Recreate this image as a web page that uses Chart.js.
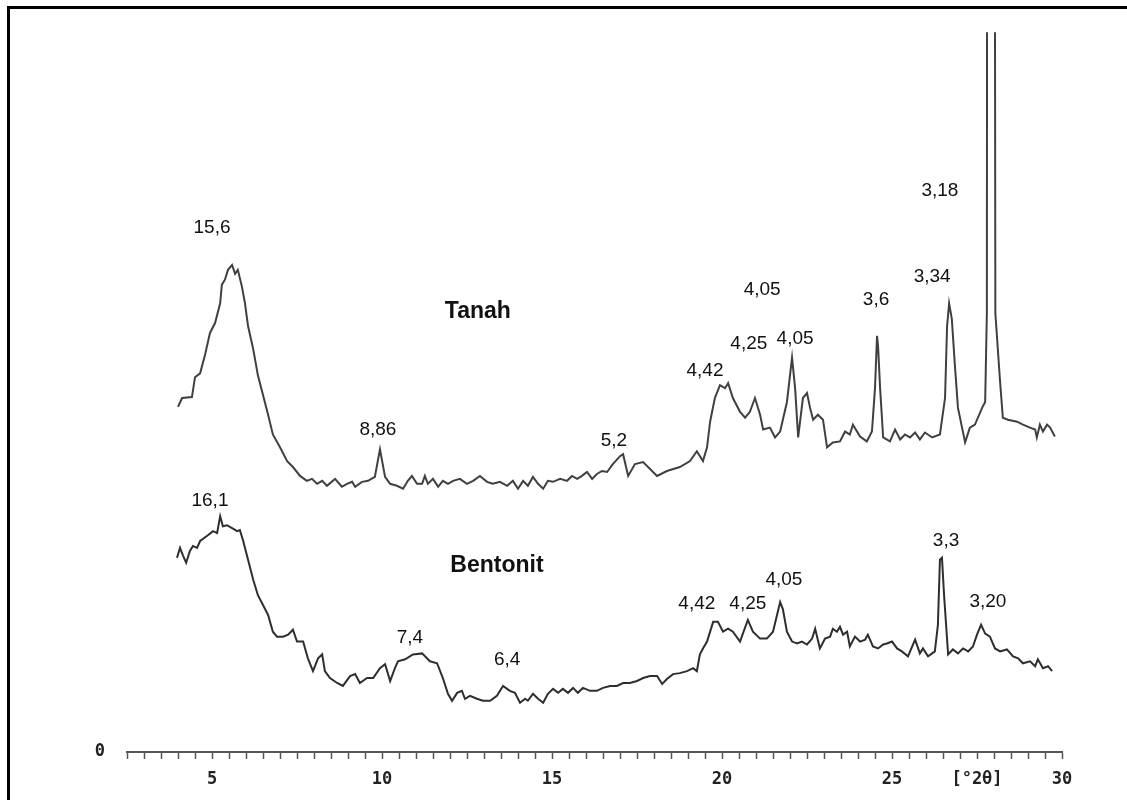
<!DOCTYPE html>
<html>
<head>
<meta charset="utf-8">
<title>XRD Tanah / Bentonit</title>
<script src="https://cdn.jsdelivr.net/npm/chart.js@4"></script>
<style>
  body { margin: 0; background: #fff; }
  #frame { position: relative; width: 1127px; height: 800px; }
  #frame::after {
    content: ''; position: absolute; left: 7px; top: 6px; right: 0; bottom: 0;
    border-left: 3px solid #000; border-top: 3px solid #000; pointer-events: none;
  }
</style>
</head>
<body>
<div id="frame"><canvas id="myChartXrd" width="1127" height="800"></canvas></div>
<script>
// difraktogram: posisi 2theta dan intensitas
const tanahTheta = [
    4.00, 4.12, 4.41, 4.50, 4.65, 4.79, 4.94, 5.09, 5.24, 5.29,
    5.38, 5.47, 5.59, 5.68, 5.76, 5.88, 5.97, 6.06, 6.21, 6.35,
    6.50, 6.65, 6.79, 7.00, 7.21, 7.38, 7.59, 7.79, 7.94, 8.09,
    8.24, 8.38, 8.62, 8.82, 8.97, 9.12, 9.21, 9.41, 9.59, 9.79,
    9.94, 10.09, 10.24, 10.44, 10.62, 10.76, 10.88, 11.03, 11.18, 11.26,
    11.35, 11.50, 11.65, 11.79, 11.94, 12.09, 12.29, 12.50, 12.68, 12.88,
    13.09, 13.26, 13.47, 13.68, 13.85, 14.00, 14.15, 14.29, 14.44, 14.59,
    14.74, 14.88, 15.03, 15.24, 15.44, 15.59, 15.74, 15.88, 16.03, 16.18,
    16.32, 16.47, 16.62, 16.79, 17.00, 17.09, 17.24, 17.44, 17.68, 18.09,
    18.38, 18.76, 19.06, 19.26, 19.44, 19.56, 19.65, 19.79, 19.94, 20.09,
    20.18, 20.32, 20.53, 20.68, 20.82, 20.97, 21.12, 21.21, 21.41, 21.56,
    21.71, 21.91, 22.06, 22.15, 22.24, 22.38, 22.50, 22.59, 22.68, 22.82,
    22.97, 23.09, 23.26, 23.47, 23.62, 23.76, 23.85, 24.06, 24.26, 24.41,
    24.50, 24.56, 24.59, 24.65, 24.74, 24.94, 25.09, 25.24, 25.38, 25.53,
    25.68, 25.82, 25.97, 26.18, 26.41, 26.56, 26.62, 26.68, 26.76, 26.85,
    26.94, 27.15, 27.29, 27.44, 27.65, 27.74, 27.79, 27.80, 28.02, 28.04,
    28.18, 28.26, 28.41, 28.68, 28.85, 29.06, 29.21, 29.26, 29.35, 29.44,
    29.56, 29.65, 29.79
]
const tanahCounts = [
    350, 359, 360, 380, 384, 402, 425, 435, 455, 474,
    479, 489, 494, 485, 489, 472, 455, 432, 409, 382,
    362, 342, 322, 309, 295, 289, 280, 275, 277, 272,
    275, 270, 277, 269, 272, 274, 269, 274, 275, 279,
    307, 279, 272, 270, 267, 275, 280, 272, 272, 280,
    272, 277, 269, 275, 272, 275, 277, 272, 275, 280,
    274, 272, 274, 270, 275, 267, 275, 270, 279, 272,
    267, 275, 274, 277, 275, 280, 277, 280, 284, 277,
    282, 285, 284, 292, 300, 302, 280, 292, 294, 280,
    285, 289, 295, 305, 295, 309, 335, 359, 372, 369,
    374, 359, 345, 339, 345, 359, 342, 327, 329, 319,
    325, 355, 400, 369, 319, 359, 364, 349, 337, 342,
    337, 309, 314, 315, 325, 322, 332, 320, 315, 325,
    369, 422, 412, 369, 319, 315, 327, 317, 322, 319,
    324, 317, 324, 319, 322, 359, 432, 455, 439, 392,
    349, 314, 329, 332, 349, 355, 445, 1000, 1000, 445,
    375, 339, 337, 335, 332, 329, 327, 319, 332, 325,
    332, 329, 320
]

const bentonitTheta = [
    3.97, 4.06, 4.15, 4.24, 4.35, 4.44, 4.56, 4.65, 4.85, 5.03,
    5.15, 5.24, 5.32, 5.44, 5.59, 5.74, 5.82, 5.91, 6.06, 6.21,
    6.35, 6.50, 6.65, 6.79, 6.91, 7.09, 7.24, 7.38, 7.50, 7.68,
    7.82, 7.97, 8.12, 8.24, 8.32, 8.47, 8.68, 8.85, 9.06, 9.21,
    9.35, 9.56, 9.74, 9.94, 10.09, 10.24, 10.38, 10.47, 10.68, 10.91,
    11.18, 11.41, 11.62, 11.79, 11.94, 12.06, 12.21, 12.35, 12.44, 12.59,
    12.79, 12.97, 13.18, 13.38, 13.56, 13.76, 13.91, 14.06, 14.21, 14.29,
    14.44, 14.59, 14.74, 14.88, 15.03, 15.18, 15.32, 15.47, 15.62, 15.76,
    15.91, 16.12, 16.32, 16.50, 16.71, 16.91, 17.09, 17.29, 17.50, 17.68,
    17.88, 18.09, 18.24, 18.38, 18.56, 18.76, 18.97, 19.15, 19.26, 19.35,
    19.44, 19.56, 19.74, 19.88, 20.03, 20.18, 20.32, 20.53, 20.76, 20.91,
    21.12, 21.32, 21.50, 21.71, 21.79, 21.91, 22.06, 22.21, 22.35, 22.50,
    22.65, 22.74, 22.88, 23.03, 23.18, 23.26, 23.38, 23.47, 23.56, 23.68,
    23.76, 23.91, 24.06, 24.21, 24.29, 24.44, 24.59, 24.74, 24.85, 25.00,
    25.15, 25.29, 25.47, 25.68, 25.82, 25.91, 26.06, 26.26, 26.35, 26.41,
    26.47, 26.53, 26.65, 26.79, 26.94, 27.09, 27.24, 27.38, 27.50, 27.62,
    27.74, 27.88, 28.03, 28.18, 28.38, 28.56, 28.71, 28.85, 29.06, 29.21,
    29.29, 29.44, 29.59, 29.71
]
const bentonitCounts = [
    197, 207, 199, 192, 204, 209, 207, 214, 219, 224,
    222, 239, 229, 230, 227, 224, 225, 215, 195, 175,
    159, 149, 139, 122, 117, 117, 119, 124, 112, 112,
    95, 82, 95, 99, 82, 75, 70, 67, 77, 79,
    70, 75, 75, 85, 89, 72, 85, 92, 94, 99,
    100, 92, 90, 75, 59, 52, 60, 62, 54, 57,
    54, 52, 52, 57, 67, 62, 60, 50, 54, 52,
    59, 54, 50, 59, 64, 60, 64, 60, 65, 60,
    65, 62, 62, 65, 67, 67, 70, 70, 72, 75,
    77, 77, 69, 74, 79, 80, 82, 85, 82, 99,
    105, 112, 132, 132, 122, 125, 122, 112, 134, 122,
    115, 115, 122, 152, 145, 122, 112, 110, 112, 109,
    115, 125, 105, 115, 117, 125, 122, 127, 119, 122,
    107, 117, 112, 114, 119, 107, 105, 109, 110, 112,
    105, 102, 97, 114, 100, 105, 97, 102, 129, 195,
    197, 160, 99, 104, 100, 105, 102, 107, 119, 129,
    120, 117, 105, 102, 104, 97, 95, 90, 92, 87,
    94, 85, 87, 82
]

// nilai d (Å) yang ditulis di atas puncak
const tanahPeakText = ['15,6', '8,86', '5,2', '4,42', '4,25', '4,05', '4,05', '3,6', '3,34', '3,18']
const tanahPeakTheta = [5.00, 9.88, 16.82, 19.50, 20.79, 21.18, 22.15, 24.53, 26.18, 26.41]
const tanahPeakLevel = [532, 327, 316, 387, 414, 469, 419, 459, 482, 569]

const bentonitPeakText = ['16,1', '7,4', '6,4', '4,42', '4,25', '4,05', '3,3', '3,20']
const bentonitPeakTheta = [4.94, 10.82, 13.68, 19.26, 20.76, 21.82, 26.59, 27.82]
const bentonitPeakLevel = [255, 116, 94, 150, 150, 175, 214, 152]

const sampleNames = ['Tanah', 'Bentonit']
const sampleTheta = [12.82, 13.38]
const sampleLevel = [447, 189]

const axisLabels = {5: '5', 10: '10', 15: '15', 20: '20', 25: '25', 27.5: '[°2θ]', 30: '30'}

const toPoints = (theta, counts) => theta.map((t, i) => ({x: t, y: counts[i]}))

/* tulisan puncak dan nama sampel */
const peakLabels = {
    id: 'peakLabels',
    afterDatasetsDraw(chart) {
        const {ctx, scales: {x, y}} = chart
        const put = (texts, thetas, levels) => {
            texts.forEach((t, i) => ctx.fillText(t, x.getPixelForValue(thetas[i]), y.getPixelForValue(levels[i])))
        }
        ctx.save()
        ctx.fillStyle = '#111'
        ctx.textAlign = 'center'
        ctx.textBaseline = 'middle'
        ctx.font = '19px "Liberation Sans", Arial, sans-serif'
        put(tanahPeakText, tanahPeakTheta, tanahPeakLevel)
        put(bentonitPeakText, bentonitPeakTheta, bentonitPeakLevel)
        ctx.font = 'bold 23px "Liberation Sans", Arial, sans-serif'
        put(sampleNames, sampleTheta, sampleLevel)
        ctx.restore()
    }
}

const data = {
    datasets: [{
        label: 'Tanah',
        data: toPoints(tanahTheta, tanahCounts),
        borderColor: '#404040',
        borderWidth: 2,
        pointRadius: 0,
        tension: 0
    }, {
        label: 'Bentonit',
        data: toPoints(bentonitTheta, bentonitCounts),
        borderColor: '#2e2e2e',
        borderWidth: 2,
        pointRadius: 0,
        tension: 0
    }]
}

const tickFont = {family: '"DejaVu Sans Mono", monospace', size: 17, weight: 'bold'}

const options = {
    responsive: false,
    animation: false,
    layout: {padding: {left: 87, top: 22, right: 65, bottom: 0}},
    plugins: {
        legend: {display: false},
        tooltip: {enabled: false}
    },
    scales: {
        x: {
            type: 'linear',
            min: 2.5,
            max: 30,
            border: {display: true, color: '#555', width: 2},
            grid: {drawOnChartArea: false, tickLength: 7, tickColor: '#555', tickWidth: 1.5},
            ticks: {
                stepSize: 0.5,
                autoSkip: false,
                maxRotation: 0,
                color: '#222',
                padding: 10,
                font: tickFont,
                callback: value => axisLabels[value] || ''
            },
            afterFit: scale => { scale.height = 48 }
        },
        y: {
            min: 0,
            max: 730,
            border: {display: false},
            grid: {display: false, drawTicks: false},
            ticks: {
                color: '#222',
                padding: 22,
                font: tickFont,
                callback: value => value === 0 ? '0' : ''
            },
            afterFit: scale => { scale.width = 40 }
        }
    }
}

const myChartXrd = new Chart('myChartXrd', {type: 'line', data, options, plugins: [peakLabels]})
</script>
</body>
</html>
